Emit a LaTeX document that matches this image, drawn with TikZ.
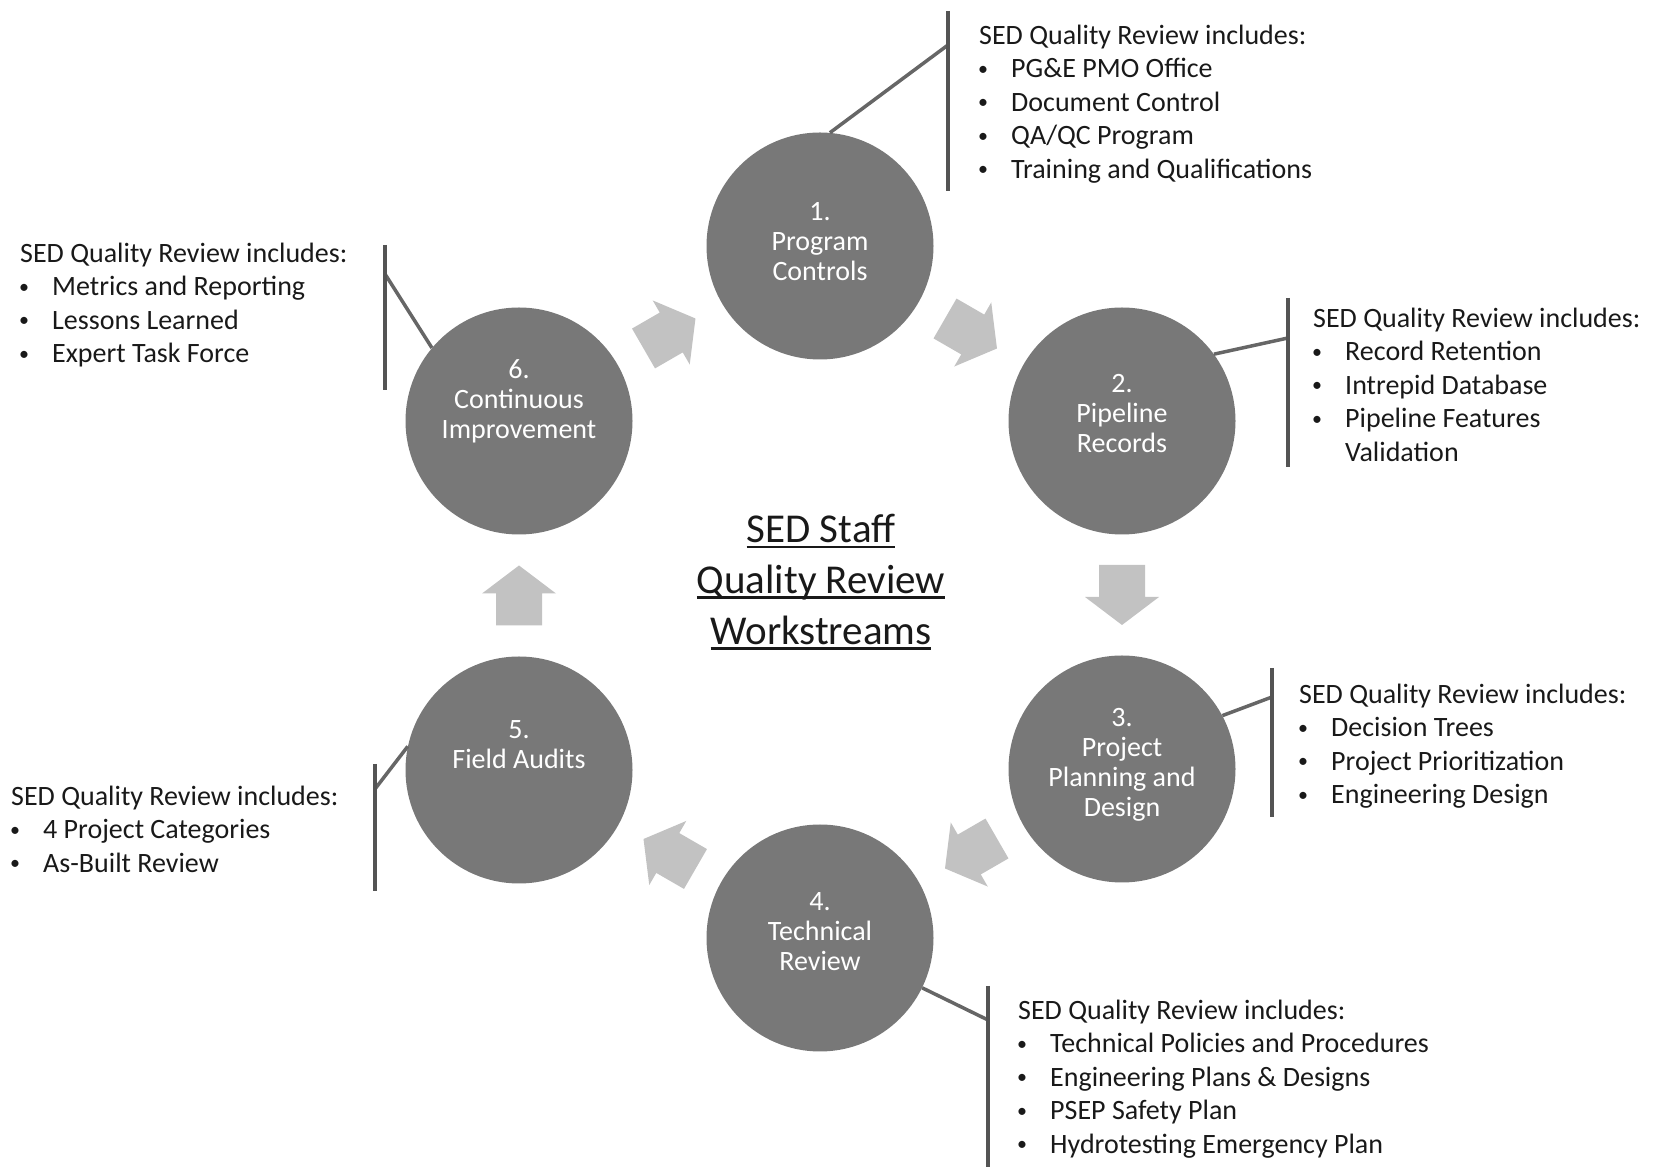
\documentclass[tikz,border=0pt]{standalone}
\usepackage{fontspec}
\setmainfont{Carlito}
\usetikzlibrary{calc}

\definecolor{stagegray}{gray}{0.47}
\definecolor{flowgray}{gray}{0.76}
\definecolor{bargray}{gray}{0.33}
\definecolor{leadgray}{gray}{0.40}

\newcommand\bul{\hspace*{4pt}\makebox[0pt]{\raisebox{2.6pt}{\fontsize{20}{20}\selectfont\textbullet}}\hspace*{28pt}}
\newsavebox\headbox
\newcommand\ulined[1]{\sbox\headbox{#1}\rlap{\rule[-5.5pt]{\wd\headbox}{2.6pt}}\usebox\headbox}

\tikzset{
  stage/.style={circle, fill=stagegray, minimum size=227pt, inner sep=0pt},
  stagetext/.style={text=white, align=center, inner sep=0pt, font=\fontsize{28}{30}\selectfont},
  notes/.style={anchor=north west, align=left, inner sep=0pt, text=black!90, font=\fontsize{28}{33.5}\selectfont},
  headline/.style={align=center, inner sep=0pt, text=black!90, font=\fontsize{41}{50.7}\selectfont},
  bar/.style={draw=bargray, line width=4.5pt},
  lead/.style={draw=leadgray, line width=3.5pt},
  pics/flowarrow/.style={code={
    \fill[flowgray] (-30,-23) -- (2,-23) -- (2,-37) -- (30,0) -- (2,37) -- (2,23) -- (-30,23) -- cycle;}}
}

\begin{document}
\begin{tikzpicture}[x=1pt,y=1pt]
            \useasboundingbox (0,0) rectangle (1657,1167);
            % workstream circles
            \node[stage] (c1) at (820,921) {};
            \node[stage] (c2) at (1122,746) {};
            \node[stage] (c3) at (1122,398) {};
            \node[stage] (c4) at (820,229) {};
            \node[stage] (c5) at (519,397) {};
            \node[stage] (c6) at (519,746) {};
            \node[stagetext] (t1) at ([yshift=4pt]c1) {1.\\Program\\Controls};
            \node[stagetext] (t2) at ([yshift=7pt]c2) {2.\\Pipeline\\Records};
            \node[stagetext] (t3) at ([yshift=4pt]c3) {3.\\Project\\Planning and\\Design};
            \node[stagetext] (t4) at ([yshift=6pt]c4) {4.\\Technical\\Review};
            \node[stagetext] (t5) at ([yshift=25pt]c5) {5.\\Field Audits};
            \node[stagetext] (t6) at ([yshift=20pt]c6) {6.\\Continuous\\Improvement};
            % flow arrows
            \pic[rotate=30] at ($(c6)!0.5!(c1)$) {flowarrow};
            \pic[rotate=-30] at ($(c1)!0.5!(c2)$) {flowarrow};
            \pic[rotate=-90] at ($(c2)!0.5!(c3)$) {flowarrow};
            \pic[rotate=-150] at ($(c3)!0.5!(c4)$) {flowarrow};
            \pic[rotate=150] at ($(c4)!0.5!(c5)$) {flowarrow};
            \pic[rotate=90] at ($(c5)!0.5!(c6)$) {flowarrow};
            % title
            \node[headline] (head) at (821,585) {\ulined{SED Staff}\\\ulined{Quality Review}\\\ulined{Workstreams}};
            % callout bars
            \coordinate (b1t) at (948,1156); \coordinate (b1b) at (948,976); \coordinate (k1) at (948,1122);
            \coordinate (b2t) at (1288,869); \coordinate (b2b) at (1288,700); \coordinate (k2) at (1288,829);
            \coordinate (b3t) at (1272,499); \coordinate (b3b) at (1272,350); \coordinate (k3) at (1272,470);
            \coordinate (b4t) at (988,181); \coordinate (b4b) at (988,0); \coordinate (k4) at (988,147);
            \coordinate (b5t) at (375,403); \coordinate (b5b) at (375,276); \coordinate (k5) at (375,378);
            \coordinate (b6t) at (385,922); \coordinate (b6b) at (385,777); \coordinate (k6) at (385,893);
            \draw[lead] (c1.85) -- (k1);
            \draw[lead] (c2.36) -- (k2);
            \draw[lead] (c3.28) -- (k3);
            \draw[lead] (c4.-26) -- (k4);
            \draw[lead] (c5.168) -- (k5);
            \draw[lead] (c6.140) -- (k6);
            \draw[bar] (b1t) -- (b1b);
            \draw[bar] (b2t) -- (b2b);
            \draw[bar] (b3t) -- (b3b);
            \draw[bar] (b4t) -- (b4b);
            \draw[bar] (b5t) -- (b5b);
            \draw[bar] (b6t) -- (b6b);
            % review notes
            \node[notes] (n1) at (979,1142.5) {SED Quality Review includes:\\\bul PG\&E PMO Office\\\bul Document Control\\\bul QA/QC Program\\\bul Training and Qualifications};
            \node[notes] (n2) at (1313,859.5) {SED Quality Review includes:\\\bul Record Retention\\\bul Intrepid Database\\\bul Pipeline Features\\\hspace*{32pt}Validation};
            \node[notes] (n3) at (1299,483.5) {SED Quality Review includes:\\\bul Decision Trees\\\bul Project Prioritization\\\bul Engineering Design};
            \node[notes] (n4) at (1018,167.5) {SED Quality Review includes:\\\bul Technical Policies and Procedures\\\bul Engineering Plans \& Designs\\\bul PSEP Safety Plan\\\bul Hydrotesting Emergency Plan};
            \node[notes] (n5) at (11,381.5) {SED Quality Review includes:\\\bul 4 Project Categories\\\bul As-Built Review};
            \node[notes] (n6) at (20,924.5) {SED Quality Review includes:\\\bul Metrics and Reporting\\\bul Lessons Learned\\\bul Expert Task Force};
        \end{tikzpicture}
\end{document}
